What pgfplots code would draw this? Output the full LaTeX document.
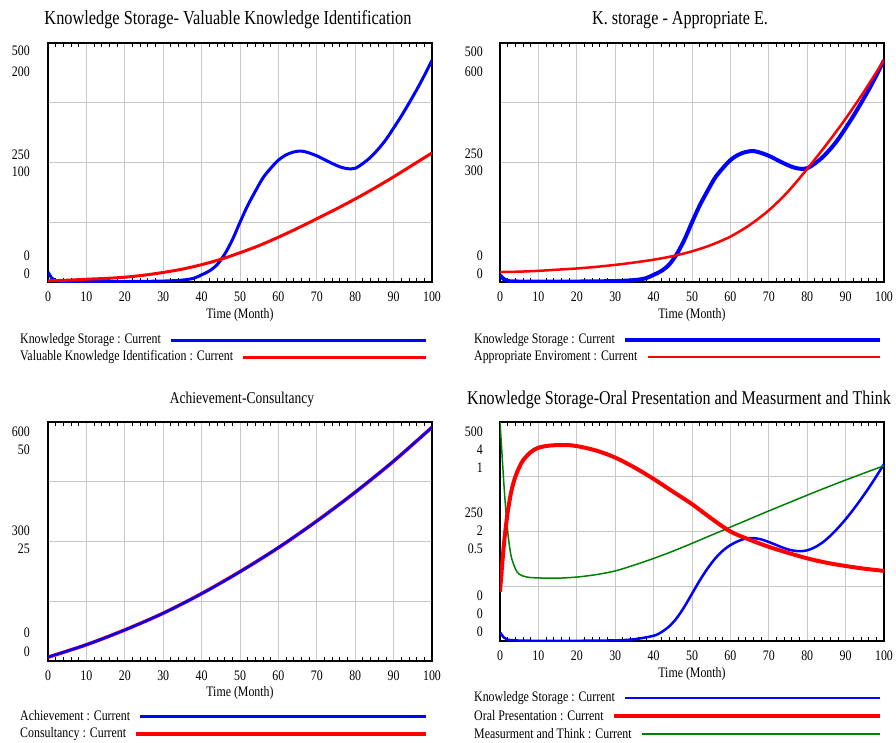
\documentclass[border=0pt]{standalone}
\usepackage{fontspec}
\setmainfont{Liberation Serif}[FakeStretch=0.82]
\usepackage{pgfplots}
\pgfplotsset{compat=1.18}
\definecolor{vblue}{RGB}{0,0,255}
\definecolor{vred}{RGB}{255,0,0}
\definecolor{vgreen}{RGB}{0,128,0}
\definecolor{vgrid}{RGB}{200,200,200}
\newcommand{\tf}{\fontsize{14.5}{16}\selectfont}
\pgfplotsset{
  vbase/.style={scale only axis, width=384pt, height=#1, xmin=0, xmax=100, anchor=north west},
  vmain/.style={vbase=#1, xtick={0,10,...,100}, minor x tick num=4,
    xtick align=inside, ytick align=inside, major tick length=0pt, minor tick length=4pt,
    xmajorgrids, ymajorgrids, major grid style={vgrid, line width=0.9pt},
    axis line style={line width=1.4pt, black}, tick style={black, line width=0.8pt},
    yticklabels={{},{},{},{},{}}, /pgf/number format/assume math mode=true,
    xticklabel style={font=\tf, inner sep=0pt, anchor=north}, xticklabel shift=10pt},
  vover/.style={vbase=#1, hide axis},
}
\begin{document}
\begin{tikzpicture}
\path[use as bounding box] (0pt,0pt) rectangle (896pt,-742pt);
% ---------------- Panel 1 ----------------
\begin{axis}[vmain=239pt, at={(48pt,-43pt)}, ymin=0, ymax=500, ytick={0,125,250,375,500}]
\addplot[vblue, line width=3pt, smooth] coordinates {(0,21) (1,8) (2,3) (5,1) (10,1) (20,1) (30,2) (35,4) (38,8) (40,15) (42,23) (44,36) (46,58) (48,88) (50,125) (52,160) (54,190) (56,218) (58,238) (60,255) (62,266) (64,272) (66,274) (68,270) (70,264) (72,256) (74,248) (76,241) (78,237) (80,238) (82,248) (84,261) (86,278) (88,298) (90,322) (92,347) (94,374) (96,402) (98,432) (100,464)};
\end{axis}
\begin{axis}[vover=239pt, at={(48pt,-43pt)}, ymin=0, ymax=200]
\addplot[vred, line width=3pt, smooth] coordinates {(0,1) (5,1.5) (10,2.3) (15,3) (20,4) (25,5.7) (30,8) (35,10.8) (40,14.5) (45,19) (50,24.5) (55,30.5) (60,37.5) (65,45) (70,53) (75,61) (80,69.5) (85,78.5) (90,88) (95,98) (100,108)};
\end{axis}
% ---------------- Panel 2 ----------------
\begin{axis}[vmain=239pt, at={(500pt,-43pt)}, ymin=0, ymax=500, ytick={0,125,250,375,500}]
\addplot[vblue, line width=4pt, smooth] coordinates {(0,14) (1,6) (2,2) (5,1) (10,1) (20,1) (30,2) (35,4) (38,8) (40,15) (42,23) (44,36) (46,58) (48,88) (50,125) (52,160) (54,190) (56,218) (58,238) (60,255) (62,266) (64,272) (66,274) (68,270) (70,264) (72,256) (74,248) (76,241) (78,237) (80,238) (82,248) (84,261) (86,278) (88,298) (90,322) (92,347) (94,374) (96,402) (98,432) (100,464)};
\end{axis}
\begin{axis}[vover=239pt, at={(500pt,-43pt)}, ymin=0, ymax=600]
\addplot[vred, line width=2.5pt, smooth] coordinates {(0,25) (5,26) (10,28) (15,31) (20,34) (25,38) (30,43) (35,49) (40,56) (45,65) (50,77) (55,93) (60,114) (65,143) (70,180) (75,227) (80,284) (85,345) (90,410) (95,481) (100,557)};
\end{axis}
% ---------------- Panel 3 ----------------
\begin{axis}[vmain=239pt, at={(48pt,-422pt)}, ymin=0, ymax=600, ytick={0,150,300,450,600}]
\end{axis}
\begin{axis}[vover=239pt, at={(48pt,-422pt)}, ymin=0, ymax=50]
\addplot[vred, line width=3.5pt, smooth] coordinates {(0,0.8) (10,3.4) (20,6.5) (30,10) (40,14.1) (50,18.7) (60,23.7) (70,29.3) (80,35.3) (90,41.8) (100,48.9)};
\end{axis}
\begin{axis}[vover=239pt, at={(48pt,-422pt)}, ymin=0, ymax=600]
\addplot[vblue, line width=2.5pt, smooth] coordinates {(0,10) (10,41) (20,78) (30,120) (40,169) (50,224) (60,285) (70,351) (80,424) (90,502) (100,587)};
\end{axis}
% ---------------- Panel 4 ----------------
\begin{axis}[vmain=219pt, at={(500pt,-422pt)}, ymin=0, ymax=500, ytick={0,125,250,375,500}]
\addplot[vblue, line width=2.5pt, smooth] coordinates {(0,20) (1,8) (2,3) (5,1) (10,0.5) (20,0.5) (30,1.5) (35,4) (40,12) (42,20) (44,33) (46,52) (48,78) (50,108) (52,138) (54,165) (56,188) (58,206) (60,219) (62,228) (64,234) (66,235) (68,232) (70,226) (72,219) (74,212) (76,207) (78,205) (80,207) (82,214) (84,225) (86,240) (88,258) (90,278) (92,300) (94,324) (96,349) (98,376) (100,404)};
\end{axis}
\begin{axis}[vover=219pt, at={(500pt,-422pt)}, ymin=0, ymax=1]
\addplot[vgreen, line width=1.5pt, smooth] coordinates {(0,1) (0.5,0.86) (1,0.72) (1.5,0.6) (2,0.5) (2.5,0.43) (3,0.38) (4,0.33) (5,0.305) (7,0.292) (10,0.288) (15,0.287) (20,0.292) (25,0.303) (30,0.32) (35,0.347) (40,0.377) (45,0.41) (50,0.446) (55,0.483) (60,0.52) (65,0.557) (70,0.594) (75,0.63) (80,0.666) (85,0.701) (90,0.735) (95,0.768) (100,0.8)};
\end{axis}
\begin{axis}[vover=219pt, at={(500pt,-422pt)}, ymin=0, ymax=4]
\addplot[vred, line width=4pt, smooth] coordinates {(0,0.9) (1,1.75) (2,2.35) (3,2.75) (4,3.0) (5,3.17) (6,3.3) (8,3.45) (10,3.53) (13,3.57) (17,3.58) (20,3.56) (25,3.48) (30,3.35) (35,3.17) (40,2.96) (45,2.73) (50,2.5) (55,2.24) (60,2.0) (65,1.85) (70,1.72) (75,1.61) (80,1.51) (85,1.43) (90,1.37) (95,1.32) (100,1.28)};
\end{axis}
% ---------------- Titles ----------------
\node[font=\fontsize{19.9}{22}\selectfont] at (228pt,-20pt) {Knowledge Storage- Valuable Knowledge Identification};
\node[font=\fontsize{19.7}{22}\selectfont] at (680pt,-20pt) {K. storage - Appropriate E.};
\node[font=\fontsize{16.5}{20}\selectfont] at (242pt,-400pt) {Achievement-Consultancy};
\node[font=\fontsize{19.5}{22}\selectfont, anchor=west, inner sep=0pt] at (467pt,-400pt) {Knowledge Storage-Oral Presentation and Measurment and Think};
% ---------------- Y labels ----------------
\begin{scope}[every node/.style={font=\tf, anchor=east, inner sep=0pt}]
\node at (30pt,-51pt) {500}; \node at (30pt,-72pt) {200};
\node at (30pt,-155pt) {250}; \node at (30pt,-172pt) {100};
\node at (30pt,-256pt) {0}; \node at (30pt,-274pt) {0};
\node at (483pt,-52pt) {500}; \node at (483pt,-72pt) {600};
\node at (483pt,-154pt) {250}; \node at (483pt,-171pt) {300};
\node at (483pt,-256pt) {0}; \node at (483pt,-274pt) {0};
\node at (30pt,-432pt) {600}; \node at (30pt,-450pt) {50};
\node at (30pt,-531pt) {300}; \node at (30pt,-549pt) {25};
\node at (30pt,-633pt) {0}; \node at (30pt,-652pt) {0};
\node at (483pt,-432pt) {500}; \node at (483pt,-450pt) {4}; \node at (483pt,-468pt) {1};
\node at (483pt,-513pt) {250}; \node at (483pt,-531pt) {2}; \node at (483pt,-549pt) {0.5};
\node at (483pt,-596pt) {0}; \node at (483pt,-614pt) {0}; \node at (483pt,-632pt) {0};
\end{scope}
% ---------------- X labels ----------------
\begin{scope}[every node/.style={font=\tf}]
\node at (240pt,-315pt) {Time (Month)};
\node at (692pt,-315pt) {Time (Month)};
\node at (240pt,-693pt) {Time (Month)};
\node at (692pt,-674pt) {Time (Month)};
\end{scope}
% ---------------- Legends ----------------
\begin{scope}[every node/.style={font=\tf, anchor=west, inner sep=0pt}]
\node (a1) at (20pt,-340pt) {Knowledge Storage : Current};
\node (a2) at (20pt,-357pt) {Valuable Knowledge Identification : Current};
\draw[vblue, line width=3pt] ([xshift=10pt]a1.east) -- (426pt,-340pt);
\draw[vred, line width=3pt] ([xshift=10pt]a2.east) -- (426pt,-357pt);
\node (b1) at (474pt,-340pt) {Knowledge Storage : Current};
\node (b2) at (474pt,-357pt) {Appropriate Enviroment : Current};
\draw[vblue, line width=4pt] ([xshift=10pt]b1.east) -- (880pt,-340pt);
\draw[vred, line width=2.5pt] ([xshift=10pt]b2.east) -- (880pt,-357pt);
\node (c1) at (20pt,-716pt) {Achievement : Current};
\node (c2) at (20pt,-734pt) {Consultancy : Current};
\draw[vblue, line width=3pt] ([xshift=10pt]c1.east) -- (426pt,-716pt);
\draw[vred, line width=3.5pt] ([xshift=10pt]c2.east) -- (426pt,-734pt);
\node (d1) at (474pt,-698pt) {Knowledge Storage : Current};
\node (d2) at (474pt,-716pt) {Oral Presentation : Current};
\node (d3) at (474pt,-734pt) {Measurment and Think : Current};
\draw[vblue, line width=2.5pt] ([xshift=10pt]d1.east) -- (880pt,-698pt);
\draw[vred, line width=4pt] ([xshift=10pt]d2.east) -- (880pt,-716pt);
\draw[vgreen, line width=1.5pt] ([xshift=10pt]d3.east) -- (880pt,-734pt);
\end{scope}
\end{tikzpicture}
\end{document}
